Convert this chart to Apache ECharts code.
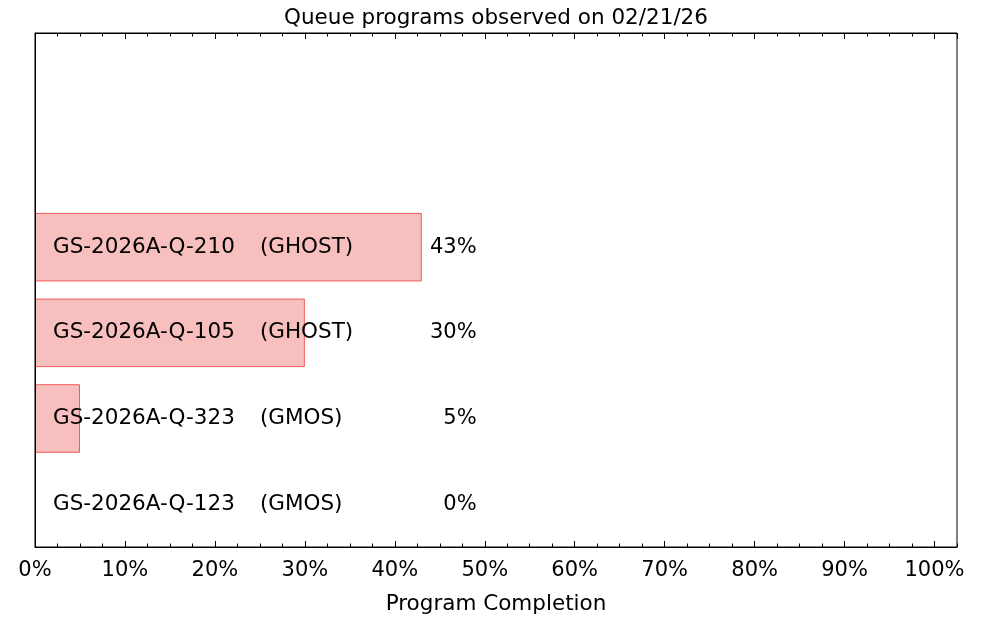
<!DOCTYPE html>
<html>
<head>
<meta charset="utf-8">
<script src="https://cdn.jsdelivr.net/npm/echarts@6/dist/echarts.min.js"></script>
<style>html,body{margin:0;padding:0;background:#fff}#c{width:1000px;height:620px}</style>
</head>
<body>
<div id="c"></div>
<script>
const titleText = 'Queue programs observed on 02/21/26';
const xAxisName = 'Program Completion';
const programs = ['GS-2026A-Q-123', 'GS-2026A-Q-323', 'GS-2026A-Q-105', 'GS-2026A-Q-210'];
const instruments = ['GMOS', 'GMOS', 'GHOST', 'GHOST'];
const completion = [0, 5, 30, 43];
const xMin = 0;
const xMax = 102.5;
const xMajor = 10;
const xMinor = 2.5;
const yMaxIndex = 5;

const FONT = 'DejaVu Sans';
const FS = 21;
const FS_TXT = 21.5;
const NAME_X = 2, INST_X = 25, PCT_X = 49.1;

const chart = echarts.init(document.getElementById('c'), null, {renderer: 'canvas'});

function majorAxis(pos, showLabels) {
  return {
    type: 'value', position: pos, min: xMin, max: xMax, interval: xMajor, z: 5,
    axisLine: {show: true, onZero: false, lineStyle: {color: '#000', width: 1}},
    axisTick: {show: true, inside: true, length: 6, lineStyle: {color: '#000', width: 1}},
    axisLabel: {
      show: showLabels, margin: 13, color: '#000', fontFamily: FONT, fontSize: FS,
      formatter: v => (v > 100 ? '' : v + '%'), showMaxLabel: false
    },
    splitLine: {show: false},
    name: showLabels ? xAxisName : '', nameLocation: 'middle', nameGap: 46,
    nameTextStyle: {color: '#000', fontFamily: FONT, fontSize: FS_TXT}
  };
}
function minorAxis(pos) {
  return {
    type: 'value', position: pos, min: xMin, max: xMax, interval: xMinor, z: 5,
    axisLine: {show: false},
    axisTick: {show: true, inside: true, length: 3.5, lineStyle: {color: '#000', width: 1}},
    axisLabel: {show: false},
    splitLine: {show: false}
  };
}

const option = {
  animation: false,
  backgroundColor: '#fff',
  graphic: [{
    type: 'text', x: 496, y: 18, z: 10,
    style: {text: titleText, fontFamily: FONT, fontSize: FS_TXT, fill: '#000', align: 'center', verticalAlign: 'middle'}
  }],
  grid: {left: 35, top: 33, width: 922, height: 516, show: true, borderColor: '#000', borderWidth: 1, backgroundColor: 'transparent'},
  xAxis: [majorAxis('bottom', true), minorAxis('bottom'), majorAxis('top', false), minorAxis('top')],
  yAxis: {
    type: 'category', data: programs, max: yMaxIndex, z: 5,
    axisLine: {show: true, lineStyle: {color: '#000'}},
    axisTick: {show: false}, axisLabel: {show: false}, splitLine: {show: false}
  },
  series: [
    {
      type: 'bar', xAxisIndex: 0, barCategoryGap: '20%', z: 2,
      data: completion.map(v => (v > 0 ? v : {value: v, itemStyle: {borderWidth: 0}})),
      itemStyle: {color: '#f8bfbf', borderColor: '#f05a5a', borderWidth: 1},
      silent: true
    },
    {
      type: 'custom', xAxisIndex: 0, silent: true, z: 8,
      data: programs.map((p, i) => [completion[i], i]),
      encode: {x: 0, y: 1},
      renderItem: function (params, api) {
        const i = params.dataIndex;
        const y = api.coord([0, i])[1];
        const st = {fontFamily: FONT, fontSize: FS_TXT, fill: '#000', verticalAlign: 'middle'};
        return {
          type: 'group',
          children: [
            {type: 'text', style: Object.assign({}, st, {x: api.coord([NAME_X, i])[0], y: y, text: programs[i], align: 'left'})},
            {type: 'text', style: Object.assign({}, st, {x: api.coord([INST_X, i])[0], y: y, text: '(' + instruments[i] + ')', align: 'left'})},
            {type: 'text', style: Object.assign({}, st, {x: api.coord([PCT_X, i])[0], y: y, text: completion[i] + '%', align: 'right', fontSize: FS})}
          ]
        };
      }
    }
  ]
};
chart.setOption(option);
</script>
</body>
</html>
